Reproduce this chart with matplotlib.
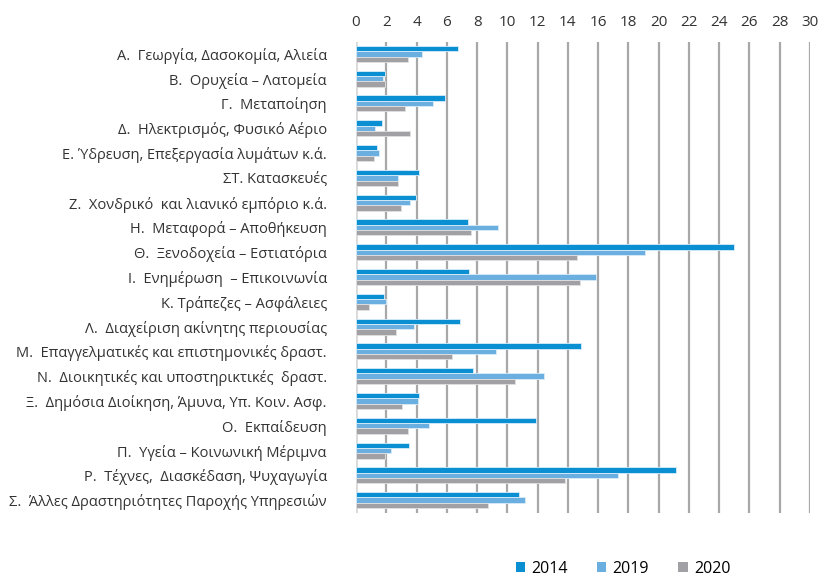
import matplotlib
matplotlib.use("Agg")
import matplotlib.pyplot as plt
import numpy as np

plt.rcParams['font.family'] = ['Open Sans', 'DejaVu Sans']

categories = [
    "Α.  Γεωργία, Δασοκομία, Αλιεία",
    "Β.  Ορυχεία – Λατομεία",
    "Γ.  Μεταποίηση",
    "Δ.  Ηλεκτρισμός, Φυσικό Αέριο",
    "Ε. Ύδρευση, Επεξεργασία λυμάτων κ.ά.",
    "ΣΤ. Κατασκευές",
    "Ζ.  Χονδρικό  και λιανικό εμπόριο κ.ά.",
    "Η.  Μεταφορά – Αποθήκευση",
    "Θ.  Ξενοδοχεία – Εστιατόρια",
    "Ι.  Ενημέρωση  – Επικοινωνία",
    "Κ. Τράπεζες – Ασφάλειες",
    "Λ.  Διαχείριση ακίνητης περιουσίας",
    "Μ.  Επαγγελματικές και επιστημονικές δραστ.",
    "Ν.  Διοικητικές και υποστηρικτικές  δραστ.",
    "Ξ.  Δημόσια Διοίκηση, Άμυνα, Υπ. Κοιν. Ασφ.",
    "Ο.  Εκπαίδευση",
    "Π.  Υγεία – Κοινωνική Μέριμνα",
    "Ρ.  Τέχνες,  Διασκέδαση, Ψυχαγωγία",
    "Σ.  Άλλες Δραστηριότητες Παροχής Υπηρεσιών",
]

v2014 = [6.71, 1.91, 5.87, 1.72, 1.41, 4.16, 3.98, 7.39, 24.95, 7.48, 1.85, 6.89, 14.85, 7.72, 4.18, 11.88, 3.48, 21.17, 10.78]
v2019 = [4.36, 1.78, 5.08, 1.25, 1.52, 2.77, 3.59, 9.37, 19.10, 15.86, 2.00, 3.83, 9.22, 12.41, 4.07, 4.82, 2.31, 17.34, 11.20]
v2020 = [3.41, 1.91, 3.26, 3.54, 1.21, 2.77, 2.99, 7.59, 14.59, 14.81, 0.88, 2.64, 6.32, 10.52, 3.04, 3.45, 1.91, 13.80, 8.69]

series = [("2014", v2014, "#0A8FD2"), ("2019", v2019, "#6AAFE0"), ("2020", v2020, "#A1A1A5")]
xticks = list(range(0, 31, 2))

fig = plt.figure(figsize=(8.22, 5.76), dpi=100)
ax = fig.add_axes([356/822, 1 - 512.5/576, (810-356)/822, (512.5-41.5)/576])

n = len(categories)
y = np.arange(n)
bh = 0.215
for i, (name, vals, col) in enumerate(series):
    ax.barh(y + (i - 1) * bh, vals, height=bh, color=col, edgecolor="#d8ecf8" if i < 2 else "#e0e0e0",
            linewidth=0.6, label=name, zorder=3)

ax.set_ylim(n - 0.5, -0.5)
ax.set_xlim(0, 30)
ax.set_xticks(xticks)
ax.set_xticklabels([str(t) for t in xticks], fontsize=11, color="#333333")
ax.xaxis.tick_top()
ax.tick_params(axis='x', length=0, pad=8)
ax.set_yticks(y)
ax.set_yticklabels(categories, fontsize=10.5, color="#333333")
ax.tick_params(axis='y', length=0, pad=21)
for s in ax.spines.values():
    s.set_visible(False)
for t in xticks[1:]:
    ax.axvline(t, color="#A8A8A8", linewidth=1.6, zorder=1)
ax.axvline(0, color="#D9D9D9", linewidth=2, zorder=1)

handles, labels = ax.get_legend_handles_labels()
leg = fig.legend(handles, labels, loc="center", bbox_to_anchor=(623/822, 1 - 569/576), ncol=3,
                 frameon=False, fontsize=11.5, handlelength=0.6, handleheight=0.6,
                 columnspacing=1.8, handletextpad=0.4)
for h in leg.legend_handles:
    h.set_edgecolor("none")

fig.savefig("out.png", dpi=100)
